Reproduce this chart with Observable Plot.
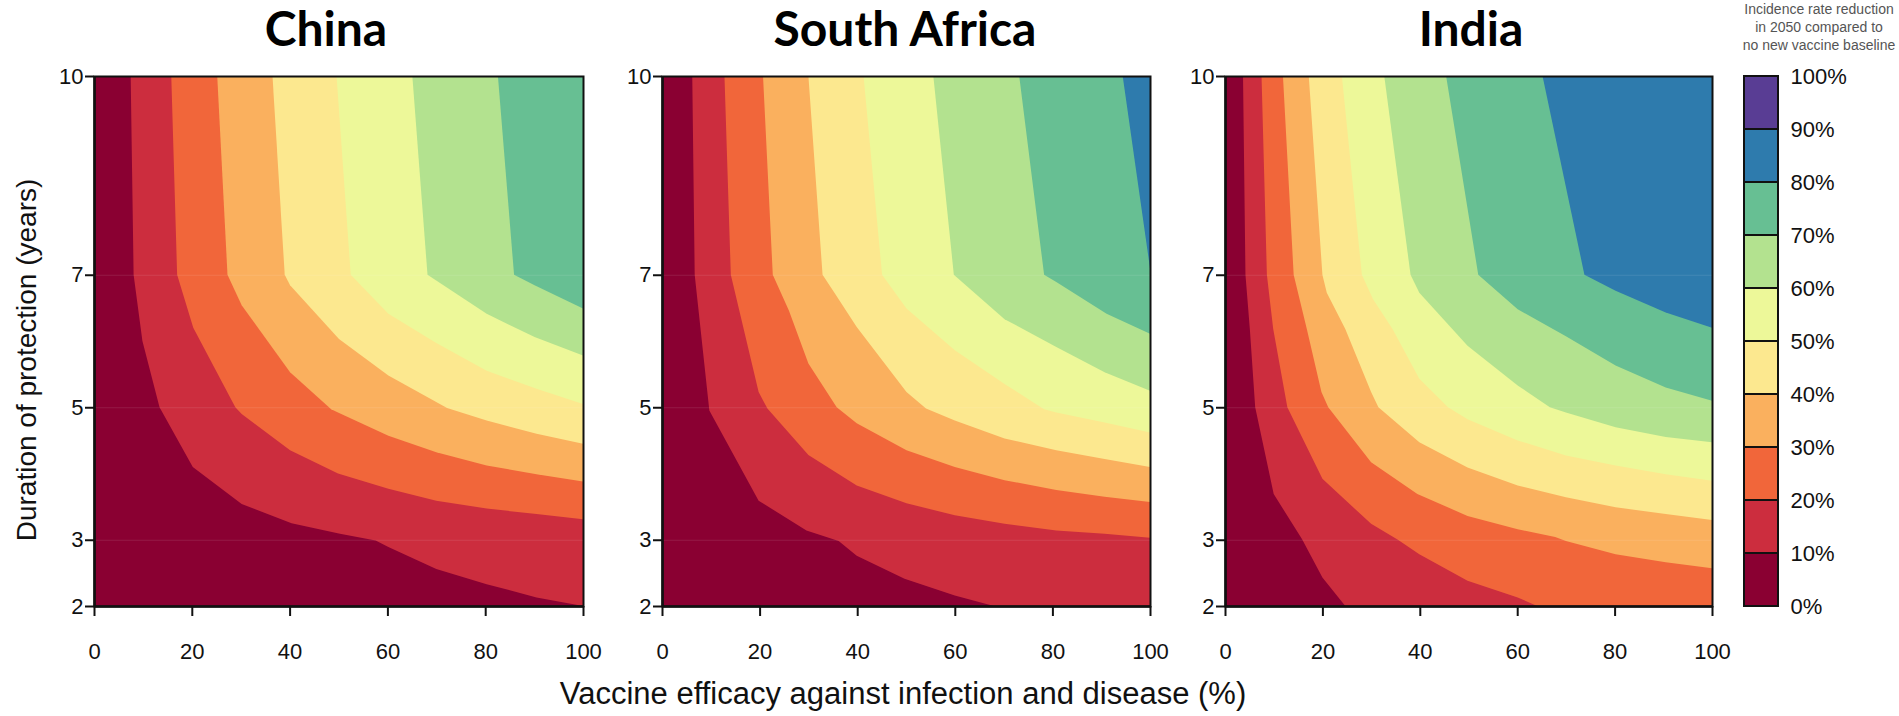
<!DOCTYPE html>
<html>
<head>
<meta charset="utf-8">
<script src="https://cdn.jsdelivr.net/npm/d3@7"></script>
<script src="https://cdn.jsdelivr.net/npm/@observablehq/plot@0.6"></script>
<style>
  html, body { margin: 0; padding: 0; background: #fff; }
  #wrap { position: relative; width: 1899px; height: 716px; overflow: hidden; background: #fff; font-family: "Liberation Sans", Arial, sans-serif; }
  .abs { position: absolute; }
  .title { font-family: Lato, "Open Sans", sans-serif; font-weight: 700; font-size: 48px; line-height: 48px; color: #000; white-space: nowrap; transform: translateX(-50%); top: 4px; }
  .xlabel { font-size: 31px; line-height: 31px; color: #111; white-space: nowrap; transform: translateX(-50%); }
  .ylabel { font-size: 28px; line-height: 28px; color: #111; white-space: nowrap; transform: translate(-50%, -50%) rotate(-90deg); }
  .legtitle { font-size: 14px; line-height: 18px; color: #555; text-align: center; white-space: nowrap; transform: translateX(-50%); }
</style>
</head>
<body>
<div id="wrap"></div>
<script>
// ---------- data ----------
const countries = ["China", "South Africa", "India"];
const pctTicks = [0, 10, 20, 30, 40, 50, 60, 70, 80, 90, 100];
const bandColors = ["#8a0032", "#cc2d3e", "#f1663a", "#fab05e", "#fce88f", "#edf899", "#b3e28f", "#67bf93", "#2e7bad", "#593d94"];
const xTicks = [0, 20, 40, 60, 80, 100];
const yTicks = [2, 3, 5, 7, 10];

// contour lines (vaccine efficacy %, duration years) for the 10%, 20%, ... thresholds
const chinaContours = [
  [[7.5,10],[8.1,7],[9.9,6],[13.4,5],[20.2,4.1],[30.2,3.54],[40.4,3.25],[50.3,3.09],[57.6,2.99],[60.2,2.89],[70,2.56],[80.3,2.33],[90.5,2.13],[100,2]],
  [[15.8,10],[17.0,7],[20.3,6.2],[28.9,5.0],[30.2,4.9],[40.1,4.35],[49.9,4.0],[60.2,3.77],[70,3.59],[80.3,3.47],[90.5,3.39],[100,3.31]],
  [[25.2,10],[27.3,7],[30.2,6.54],[40.1,5.53],[48.5,4.97],[49.9,4.92],[60.2,4.57],[70,4.32],[80.3,4.12],[90.5,3.99],[100,3.88]],
  [[36.5,10],[39.0,7],[40.1,6.84],[50.1,6.03],[60.2,5.48],[72.2,4.99],[80.3,4.8],[90.5,4.6],[100,4.45]],
  [[49.6,10],[52.5,7],[60.2,6.41],[70,5.97],[80.3,5.55],[90.5,5.28],[100,5.05]],
  [[65.1,10],[68.2,7],[80.3,6.41],[90.1,6.06],[100,5.78]],
  [[82.6,10],[85.9,7],[90.1,6.84],[100,6.49]]
];
const southAfricaContours = [
  [[6.2,10],[6.7,7],[9.7,4.95],[19.8,3.59],[29.6,3.14],[36.2,2.98],[39.9,2.76],[49.7,2.41],[60,2.16],[68,2]],
  [[12.8,10],[14.1,7],[19.8,5.23],[21.6,4.98],[30,4.28],[39.9,3.82],[50.1,3.55],[60,3.37],[70.2,3.24],[80.8,3.14],[90.7,3.09],[100,3.03]],
  [[20.7,10],[22.7,7],[26,6.46],[30,5.66],[35.8,5.0],[39.9,4.76],[50.1,4.35],[60,4.1],[70.2,3.9],[80.8,3.75],[90.7,3.65],[100,3.57]],
  [[30.0,10],[32.9,7],[35.5,6.71],[39.9,6.21],[50.1,5.23],[54.1,4.98],[60,4.8],[70.2,4.53],[80.8,4.35],[90.7,4.22],[100,4.1]],
  [[41.3,10],[45.1,7],[50.1,6.49],[60,5.86],[70.2,5.35],[78.3,4.97],[80.8,4.92],[90.7,4.77],[100,4.62]],
  [[55.6,10],[59.8,7],[70.2,6.33],[80.8,5.91],[90.7,5.53],[100,5.25]],
  [[73.2,10],[78.3,7],[80.8,6.89],[91.1,6.41],[100,6.11]],
  [[94.4,10],[100,7.1]]
];
const indiaContours = [
  [[3.7,10],[4.2,7],[5.1,6.18],[6.2,5.0],[10,3.69],[15.8,3.01],[20,2.43],[24.7,2]],
  [[7.5,10],[8.6,7],[9.9,6.18],[12.8,5.0],[20,3.92],[30,3.24],[35.5,3.0],[39.9,2.78],[49.8,2.38],[60.1,2.13],[64.1,2]],
  [[11.9,10],[14.1,7],[16.8,6.18],[19.8,5.23],[21.2,5.0],[30,4.17],[39.5,3.69],[49.8,3.36],[60.1,3.16],[67.8,3.04],[70,2.98],[80.2,2.78],[90.5,2.66],[100,2.57]],
  [[17.2,10],[20.0,7],[20.9,6.73],[24.7,6.18],[30,5.23],[31.5,5.0],[39.9,4.47],[49.8,4.09],[60.1,3.82],[70,3.64],[80.2,3.49],[90.5,3.39],[100,3.3]],
  [[24.0,10],[28.1,7],[30.4,6.63],[34.4,6.18],[39.9,5.43],[45.8,5.0],[49.8,4.82],[60.1,4.5],[70,4.27],[80.2,4.12],[90.5,3.99],[100,3.89]],
  [[32.7,10],[38.1,7],[39.9,6.73],[49.8,5.93],[60.1,5.33],[66.7,5.0],[70,4.92],[80.2,4.7],[90.5,4.55],[100,4.47]],
  [[45.4,10],[52.0,7],[60.1,6.48],[70,6.07],[80.2,5.63],[90.5,5.3],[100,5.1]],
  [[65.2,10],[73.8,7],[80.2,6.76],[90.5,6.43],[100,6.2]]
];

const yLabel = "Duration of protection (years)";
const xLabel = "Vaccine efficacy against infection and disease (%)";
const legendTitle = ["Incidence rate reduction", "in 2050 compared to", "no new vaccine baseline"];

// ---------- layout ----------
const wrap = document.getElementById("wrap");
const H = 716, MT = 76, MB = 110;
const baseStyle = {fontFamily: "'Liberation Sans', Arial, sans-serif", color: "#111", background: "transparent", overflow: "visible"};

function panel(contours, cfg) {
  const svg = Plot.plot({
    width: cfg.width, height: H,
    marginLeft: cfg.ml, marginRight: cfg.mr, marginTop: MT, marginBottom: MB,
    x: {domain: [0, 100]},
    y: {domain: [2, 10]},
    style: baseStyle,
    marks: [
      Plot.frame({fill: bandColors[0]}),
      ...contours.map((c, i) => Plot.areaX(c, {x1: d => d[0], x2: 100, y: d => d[1], fill: bandColors[i + 1], curve: "linear"})),
      Plot.ruleY([3, 5, 7], {stroke: "white", strokeOpacity: 0.1}),
      Plot.frame({stroke: "#111", strokeWidth: 2}),
      Plot.ruleX([0], {stroke: "#111", strokeWidth: 2.5}),
      Plot.ruleY([2], {stroke: "#111", strokeWidth: 2.5}),
      Plot.axisY({ticks: yTicks, tickSize: 9, tickPadding: 2, fontSize: 22, strokeWidth: 2, label: null}),
      Plot.axisX({ticks: xTicks, tickSize: 10, tickPadding: 27, fontSize: 22, strokeWidth: 2, label: null})
    ]
  });
  svg.style.position = "absolute";
  svg.style.left = cfg.left + "px";
  svg.style.top = "0px";
  wrap.appendChild(svg);
}

panel(chinaContours,       {left: 0,    width: 620, ml: 94, mr: 37});
panel(southAfricaContours, {left: 620,  width: 560, ml: 42, mr: 30});
panel(indiaContours,       {left: 1180, width: 540, ml: 45, mr: 8});

// colour bar
const bar = Plot.plot({
  width: 179, height: H,
  marginLeft: 24, marginRight: 121, marginTop: MT, marginBottom: MB,
  x: {domain: [0, 1], axis: null},
  y: {domain: [0, 100], axis: null},
  color: {type: "identity"},
  style: baseStyle,
  marks: [
    Plot.rect(bandColors, {x1: 0, x2: 1, y1: (d, i) => pctTicks[i], y2: (d, i) => pctTicks[i + 1], fill: d => d, stroke: "#111", strokeWidth: 2}),
    Plot.axisY(pctTicks, {anchor: "right", tickSize: 0, tickPadding: 12, tickFormat: d => d + "%", fontSize: 22, label: null})
  ]
});
bar.style.position = "absolute";
bar.style.left = "1720px";
bar.style.top = "0px";
wrap.appendChild(bar);

// titles and labels
const titleX = [326, 905, 1471];
countries.forEach((c, i) => {
  const d = document.createElement("div");
  d.className = "abs title";
  d.style.left = titleX[i] + "px";
  d.textContent = c;
  wrap.appendChild(d);
});
const xl = document.createElement("div");
xl.className = "abs xlabel";
xl.style.left = "903px";
xl.style.top = "678px";
xl.textContent = xLabel;
wrap.appendChild(xl);

const yl = document.createElement("div");
yl.className = "abs ylabel";
yl.style.left = "27px";
yl.style.top = "360px";
yl.textContent = yLabel;
wrap.appendChild(yl);

const lt = document.createElement("div");
lt.className = "abs legtitle";
lt.style.left = "1819px";
lt.style.top = "0px";
lt.innerHTML = legendTitle.join("<br>");
wrap.appendChild(lt);
</script>
</body>
</html>
